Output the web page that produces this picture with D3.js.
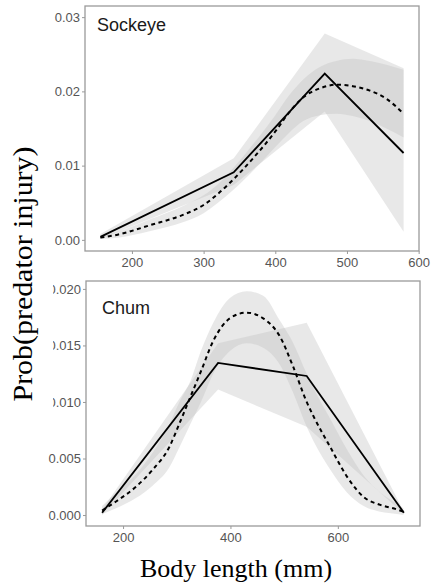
<!DOCTYPE html>
<html><head><meta charset="utf-8">
<script src="https://cdn.jsdelivr.net/npm/d3@7"></script>
<style>body{margin:0;background:#fff}svg{display:block}</style>
</head><body>
<script>
// ---------- DATA ----------
const panels = ["Sockeye", "Chum"];

// Sockeye: piecewise (solid) model and its CI
const sockeyeSolidX  = [156, 342, 469, 579];
const sockeyeSolidY  = [0.0004, 0.0091, 0.0224, 0.0117];
const sockeyeSolidLo = [0.0001, 0.0074, 0.0173, 0.0011];
const sockeyeSolidHi = [0.0008, 0.0110, 0.0278, 0.0231];
// Sockeye: smooth (dashed) model and its CI
const sockeyeCurveX  = [156, 180, 226, 272, 300, 320, 340, 370, 400, 418, 439, 462, 485, 508, 532, 555, 579];
const sockeyeCurveY  = [0.0003, 0.0007, 0.0020, 0.0034, 0.0047, 0.0062, 0.0080, 0.0111, 0.0146, 0.0170, 0.0192, 0.0204, 0.0209, 0.0207, 0.0201, 0.0190, 0.0170];
const sockeyeCurveLo = [0.0001, 0.0003, 0.0012, 0.0024, 0.0036, 0.0050, 0.0066, 0.0094, 0.0125, 0.0143, 0.0160, 0.0168, 0.0170, 0.0167, 0.0160, 0.0150, 0.0138];
const sockeyeCurveHi = [0.0006, 0.0011, 0.0028, 0.0046, 0.0060, 0.0075, 0.0095, 0.0130, 0.0168, 0.0193, 0.0216, 0.0233, 0.0241, 0.0244, 0.0241, 0.0236, 0.0229];

// Chum
const chumSolidX  = [161, 377, 542, 723];
const chumSolidY  = [0.0002, 0.01345, 0.0123, 0.0002];
const chumSolidLo = [0.0000, 0.0111, 0.0078, 0.0001];
const chumSolidHi = [0.0005, 0.0152, 0.0170, 0.0003];
const chumCurveX  = [161, 187, 224, 255, 286, 305, 325, 345, 368, 399, 430, 461, 492, 517, 542, 555, 586, 617, 648, 679, 710, 722];
const chumCurveY  = [0.0004, 0.0012, 0.0025, 0.0040, 0.0060, 0.0081, 0.0104, 0.0127, 0.0154, 0.0174, 0.0179, 0.0174, 0.0158, 0.0131, 0.0100, 0.0087, 0.0060, 0.0034, 0.0016, 0.0009, 0.0005, 0.0003];
const chumCurveLo = [0.0001, 0.0006, 0.0015, 0.0026, 0.0042, 0.0060, 0.0080, 0.0100, 0.0125, 0.0145, 0.0152, 0.0148, 0.0133, 0.0108, 0.0078, 0.0065, 0.0040, 0.0020, 0.0008, 0.0003, 0.0001, 0.0000];
const chumCurveHi = [0.0008, 0.0020, 0.0036, 0.0055, 0.0080, 0.0100, 0.0118, 0.0145, 0.0170, 0.0192, 0.0198, 0.0194, 0.0172, 0.0152, 0.0125, 0.0112, 0.0085, 0.0058, 0.0035, 0.0020, 0.0010, 0.0006];

// Ticks
const sockeyeXTicks = [200, 300, 400, 500, 600];
const sockeyeYTicks = [0.00, 0.01, 0.02, 0.03];
const sockeyeYLabels = ["0.00", "0.01", "0.02", "0.03"];
const chumXTicks = [200, 400, 600];
const chumYTicks = [0.000, 0.005, 0.010, 0.015, 0.020];
const chumYLabels = ["0.000", "0.005", "0.010", "0.015", "0.020"];

const xTitle = "Body length (mm)";
const yTitle = "Prob(predator injury)";

// ---------- DRAW ----------
const W = 432, H = 586;
const svg = d3.select("body").append("svg").attr("width", W).attr("height", H);

const zip = (xs, ys) => xs.map((x, i) => [x, ys[i]]);
const zip3 = (xs, lo, hi) => xs.map((x, i) => ({x, lo: lo[i], hi: hi[i]}));

const cfg = [
  { name: panels[0], box: [85, 6, 419, 251], xd: [134.5, 600.5], yd: [-0.0015, 0.0315],
    xt: sockeyeXTicks, yt: sockeyeYTicks, yl: sockeyeYLabels,
    sx: sockeyeSolidX, sy: sockeyeSolidY, slo: sockeyeSolidLo, shi: sockeyeSolidHi,
    cx: sockeyeCurveX, cy: sockeyeCurveY, clo: sockeyeCurveLo, chi: sockeyeCurveHi, labelY: 31, labelX: 97 },
  { name: panels[1], box: [86, 281, 420, 526], xd: [131, 753], yd: [-0.00097, 0.0207],
    xt: chumXTicks, yt: chumYTicks, yl: chumYLabels,
    sx: chumSolidX, sy: chumSolidY, slo: chumSolidLo, shi: chumSolidHi,
    cx: chumCurveX, cy: chumCurveY, clo: chumCurveLo, chi: chumCurveHi, labelY: 314, labelX: 102 }
];

cfg.forEach(p => {
  const [x0, y0, x1, y1] = p.box;
  const x = d3.scaleLinear().domain(p.xd).range([x0, x1]);
  const y = d3.scaleLinear().domain(p.yd).range([y1, y0]);
  const g = svg.append("g");

  const areaLin = d3.area().x(d => x(d.x)).y0(d => y(d.lo)).y1(d => y(d.hi));
  const areaSmooth = d3.area().x(d => x(d.x)).y0(d => y(d.lo)).y1(d => y(d.hi)).curve(d3.curveMonotoneX);

  g.append("path").datum(zip3(p.sx, p.slo, p.shi)).attr("d", areaLin)
    .attr("fill", "#bfbfbf").attr("fill-opacity", 0.36);
  g.append("path").datum(zip3(p.cx, p.clo, p.chi)).attr("d", areaSmooth)
    .attr("fill", "#bfbfbf").attr("fill-opacity", 0.36);

  g.append("path").datum(zip(p.cx, p.cy))
    .attr("d", d3.line().x(d => x(d[0])).y(d => y(d[1])).curve(d3.curveMonotoneX))
    .attr("fill", "none").attr("stroke", "#000").attr("stroke-width", 2)
    .attr("stroke-dasharray", "4,3.5");
  g.append("path").datum(zip(p.sx, p.sy))
    .attr("d", d3.line().x(d => x(d[0])).y(d => y(d[1])))
    .attr("fill", "none").attr("stroke", "#000").attr("stroke-width", 1.8);

  // border
  g.append("rect").attr("x", x0).attr("y", y0).attr("width", x1 - x0).attr("height", y1 - y0)
    .attr("fill", "none").attr("stroke", "#9a9a9a").attr("stroke-width", 1.3);

  // axes
  const ax = g.append("g").attr("transform", `translate(0,${y1})`)
    .call(d3.axisBottom(x).tickValues(p.xt).tickFormat(d3.format("d")).tickSize(3).tickPadding(4));
  ax.select(".domain").remove();
  ax.selectAll("line").attr("stroke", "#9a9a9a");
  ax.selectAll("text").attr("fill", "#555").style("font-family", "'Liberation Sans', Arial, sans-serif").style("font-size", "13px");

  const ay = g.append("g").attr("transform", `translate(${x0},0)`)
    .call(d3.axisLeft(y).tickValues(p.yt).tickFormat((d, i) => p.yl[i]).tickSize(3).tickPadding(2));
  ay.select(".domain").remove();
  ay.selectAll("line").attr("stroke", "#9a9a9a");
  ay.selectAll("text").attr("fill", "#555").style("font-family", "'Liberation Sans', Arial, sans-serif").style("font-size", "13px");

  g.append("text").attr("x", p.labelX).attr("y", p.labelY).text(p.name)
    .attr("fill", "#1a1a1a").style("font-family", "'Liberation Sans', Arial, sans-serif").style("font-size", "18px");
});

// white background of pasted y title (clips a bit of labels)
svg.append("rect").attr("x", 0).attr("y", 140).attr("width", 53).attr("height", 278).attr("fill", "#fff");

svg.append("text")
  .attr("transform", "translate(32,274) rotate(-90)")
  .attr("text-anchor", "middle")
  .attr("textLength", 255).attr("lengthAdjust", "spacingAndGlyphs")
  .style("font-family", "'Liberation Serif', 'Times New Roman', serif").style("font-size", "27px")
  .attr("fill", "#000").text(yTitle);

svg.append("text")
  .attr("x", 236).attr("y", 577).attr("text-anchor", "middle")
  .style("font-family", "'Liberation Serif', 'Times New Roman', serif").style("font-size", "26px")
  .attr("fill", "#000").text(xTitle);
</script>
</body></html>
